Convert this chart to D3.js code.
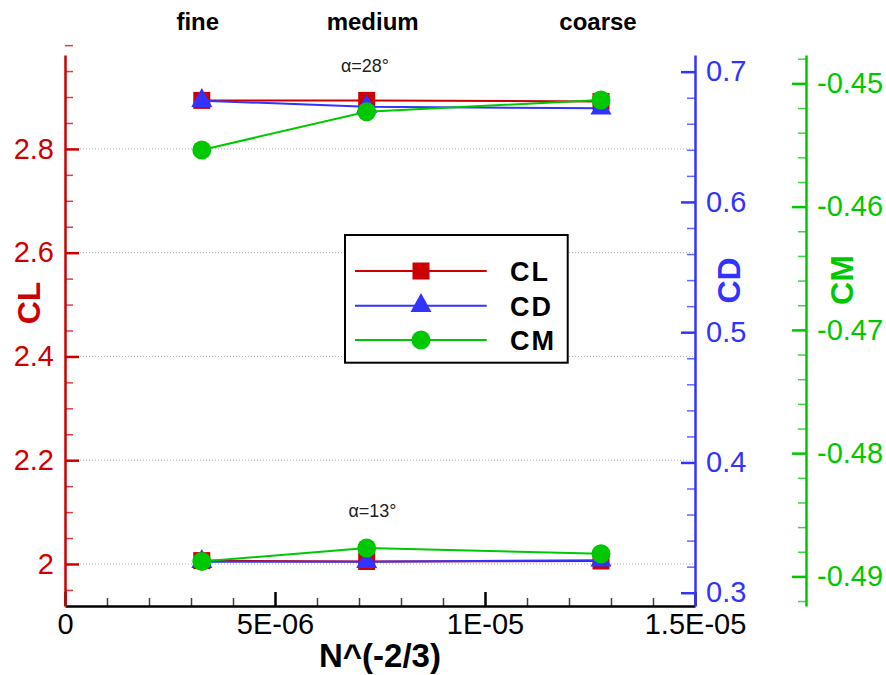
<!DOCTYPE html>
<html>
<head>
<meta charset="utf-8">
<script src="https://cdn.jsdelivr.net/npm/d3@7"></script>
<style>
  html, body { margin: 0; padding: 0; background: #fff; }
  svg { display: block; font-family: "Liberation Sans", Arial, Helvetica, sans-serif; }
</style>
</head>
<body>
<svg id="chart" width="886" height="675"></svg>
<script>
// Mesh names and their refinement parameter N^(-2/3)
const meshes = ["fine", "medium", "coarse"];
const meshX = [3.257e-6, 7.183e-6, 1.2762e-5];

// Coefficients at alpha = 28 deg
const cl28 = [2.8935, 2.8935, 2.8916];
const cd28 = [0.6777, 0.6731, 0.6719];
const cm28 = [-0.4554, -0.4523, -0.45135];

// Coefficients at alpha = 13 deg
const cl13 = [2.0065, 2.0048, 2.0058];
const cd13 = [0.3238, 0.3238, 0.3250];
const cm13 = [-0.48878, -0.48770, -0.48816];

// Tick values and labels
const xTicks = [0, 5e-6, 1e-5, 1.5e-5];
const xTickLabels = ["0", "5E-06", "1E-05", "1.5E-05"];
const clTicks = [2, 2.2, 2.4, 2.6, 2.8];
const cdTicks = [0.3, 0.4, 0.5, 0.6, 0.7];
const cmTicks = [-0.49, -0.48, -0.47, -0.46, -0.45];
const angleLabels = ["α=28°", "α=13°"];
const seriesNames = ["CL", "CD", "CM"];

// ---- layout & style ----
const L = 65, R = 695, T = 55, B = 606;
const xCM = 806;
const RED = "#cc0000", BLUE = "#3333ff", GREEN = "#00c800";
const svg = d3.select("#chart");

const x = d3.scaleLinear().domain([0, 1.5e-5]).range([L, R]);
const yCL = d3.scaleLinear().domain([1.919, 2.981]).range([B, T]);
const yCD = d3.scaleLinear().domain([0.2898, 0.7128]).range([B, T]);
const yCM = d3.scaleLinear().domain([-0.4924, -0.4477]).range([B, T]);

const num = d => String(Math.round(d * 1000) / 1000);
const near = (v, arr) => arr.some(a => Math.abs(a - v) < 1e-9);

// minor tick positions
const xMinor = d3.range(0, 16).map(i => i * 1e-6).filter(v => !near(v, xTicks));
const clMinor = d3.range(0, 22).map(i => +(1.95 + i * 0.05).toFixed(2)).filter(v => !near(v, clTicks));
const cdMinor = d3.range(0, 21).map(i => +(0.3 + i * 0.02).toFixed(2)).filter(v => !near(v, cdTicks));
const cmMinor = d3.range(0, 23).map(i => +(-0.492 + i * 0.002).toFixed(3)).filter(v => !near(v, cmTicks));

// dotted grid lines at the CL major ticks
svg.append("g").selectAll("line").data(clTicks).join("line")
  .attr("x1", L).attr("x2", R)
  .attr("y1", d => yCL(d)).attr("y2", d => yCL(d))
  .attr("stroke", "#b0b0b0").attr("stroke-width", 1)
  .attr("stroke-dasharray", "1,2");

function styleAxis(g, color, fontSize) {
  g.select(".domain").attr("stroke", color).attr("stroke-width", 2.5);
  g.selectAll(".tick line").attr("stroke", color).attr("stroke-width", 2.5);
  g.selectAll(".tick text").attr("fill", color)
    .attr("font-size", fontSize).attr("font-family", "Liberation Sans, Arial, sans-serif");
}
function minorAxis(axisFn, scale, values, size, tx, ty, color) {
  const g = svg.append("g").attr("transform", `translate(${tx},${ty})`)
    .call(axisFn(scale).tickValues(values).tickSizeInner(size).tickSizeOuter(0).tickFormat(""));
  g.select(".domain").remove();
  g.selectAll(".tick line").attr("stroke", color).attr("stroke-width", 1.5).attr("stroke-opacity", 0.75);
}

// x axis
minorAxis(d3.axisBottom, x, xMinor, -8, 0, B, "#000");
const gx = svg.append("g").attr("transform", `translate(0,${B})`)
  .call(d3.axisBottom(x).tickValues(xTicks).tickSizeInner(-14).tickSizeOuter(0)
    .tickPadding(7).tickFormat((d, i) => xTickLabels[i]));
styleAxis(gx, "#000", 29);

// CL axis (left)
minorAxis(d3.axisLeft, yCL, clMinor, -8, L, 0, RED);
const gcl = svg.append("g").attr("transform", `translate(${L},0)`)
  .call(d3.axisLeft(yCL).tickValues(clTicks).tickSizeInner(-14).tickSizeOuter(0)
    .tickPadding(11).tickFormat(num));
styleAxis(gcl, RED, 29);

// CD axis (right)
minorAxis(d3.axisRight, yCD, cdMinor, -8, R, 0, BLUE);
const gcd = svg.append("g").attr("transform", `translate(${R},0)`)
  .call(d3.axisRight(yCD).tickValues(cdTicks).tickSizeInner(-14).tickSizeOuter(0)
    .tickPadding(11).tickFormat(num));
styleAxis(gcd, BLUE, 29);

// CM axis (offset right)
minorAxis(d3.axisRight, yCM, cmMinor, -8, xCM, 0, GREEN);
const gcm = svg.append("g").attr("transform", `translate(${xCM},0)`)
  .call(d3.axisRight(yCM).tickValues(cmTicks).tickSizeInner(-14).tickSizeOuter(0)
    .tickPadding(11).tickFormat(num));
styleAxis(gcm, GREEN, 29);

// axis titles
svg.append("text").attr("x", (L + R) / 2).attr("y", 667).attr("text-anchor", "middle")
  .attr("font-weight", "bold").attr("font-size", 33).attr("fill", "#000").text("N^(-2/3)");
const titles = [
  { t: "CL", c: RED, x: 40, y: 303 },
  { t: "CD", c: BLUE, x: 740, y: 280.5 },
  { t: "CM", c: GREEN, x: 853, y: 280 }
];
svg.append("g").selectAll("text").data(titles).join("text")
  .attr("transform", d => `translate(${d.x},${d.y}) rotate(-90)`)
  .attr("text-anchor", "middle").attr("font-weight", "bold").attr("font-size", 32)
  .attr("fill", d => d.c).text(d => d.t);

// mesh labels along the top
const meshLabelShift = [-4, 6, -3];
svg.append("g").selectAll("text").data(meshes).join("text")
  .attr("x", (d, i) => x(meshX[i]) + meshLabelShift[i]).attr("y", 30)
  .attr("text-anchor", "middle").attr("font-weight", "bold").attr("font-size", 24)
  .attr("fill", "#000").text(d => d);

// angle annotations
svg.append("text").attr("x", 365).attr("y", 72).attr("text-anchor", "middle")
  .attr("font-size", 18).attr("fill", "#222").text(angleLabels[0]);
svg.append("text").attr("x", 372.5).attr("y", 516.5).attr("text-anchor", "middle")
  .attr("font-size", 18).attr("fill", "#222").text(angleLabels[1]);

// marker shapes
const sq = 17;
const triPath = (w, h) => `M0,${-2 * h / 3}L${w / 2},${h / 3}L${-w / 2},${h / 3}Z`;
function drawMarker(g, kind, cx, cy, color) {
  if (kind === "square") {
    g.append("rect").attr("x", cx - sq / 2).attr("y", cy - sq / 2)
      .attr("width", sq).attr("height", sq).attr("fill", color);
  } else if (kind === "triangle") {
    g.append("path").attr("d", triPath(21, 19))
      .attr("transform", `translate(${cx},${cy})`).attr("fill", color);
  } else {
    g.append("circle").attr("cx", cx).attr("cy", cy).attr("r", 9.5).attr("fill", color);
  }
}

const series = [
  { vals: [cl28, cl13], scale: yCL, color: RED, kind: "square" },
  { vals: [cd28, cd13], scale: yCD, color: BLUE, kind: "triangle" },
  { vals: [cm28, cm13], scale: yCM, color: GREEN, kind: "circle" }
];

const plot = svg.append("g");
series.forEach(s => {
  s.vals.forEach(arr => {
    const line = d3.line().x((d, i) => x(meshX[i])).y(d => s.scale(d));
    plot.append("path").datum(arr).attr("d", line)
      .attr("fill", "none").attr("stroke", s.color).attr("stroke-width", 2);
    arr.forEach((v, i) => drawMarker(plot, s.kind, x(meshX[i]), s.scale(v), s.color));
  });
});

// legend
const lg = svg.append("g");
lg.append("rect").attr("x", 345).attr("y", 235).attr("width", 222.7).attr("height", 127.7)
  .attr("fill", "#fff").attr("stroke", "#000").attr("stroke-width", 2);
const rowY = [271, 305.7, 340];
series.forEach((s, i) => {
  lg.append("line").attr("x1", 355).attr("x2", 486.7).attr("y1", rowY[i]).attr("y2", rowY[i])
    .attr("stroke", s.color).attr("stroke-width", 2);
  drawMarker(lg, s.kind, 421, rowY[i], s.color);
  lg.append("text").attr("x", 510).attr("y", rowY[i] + 9.8)
    .attr("font-weight", "bold").attr("font-size", 27).attr("letter-spacing", 2)
    .attr("fill", "#000").text(seriesNames[i]);
});
</script>
</body>
</html>
